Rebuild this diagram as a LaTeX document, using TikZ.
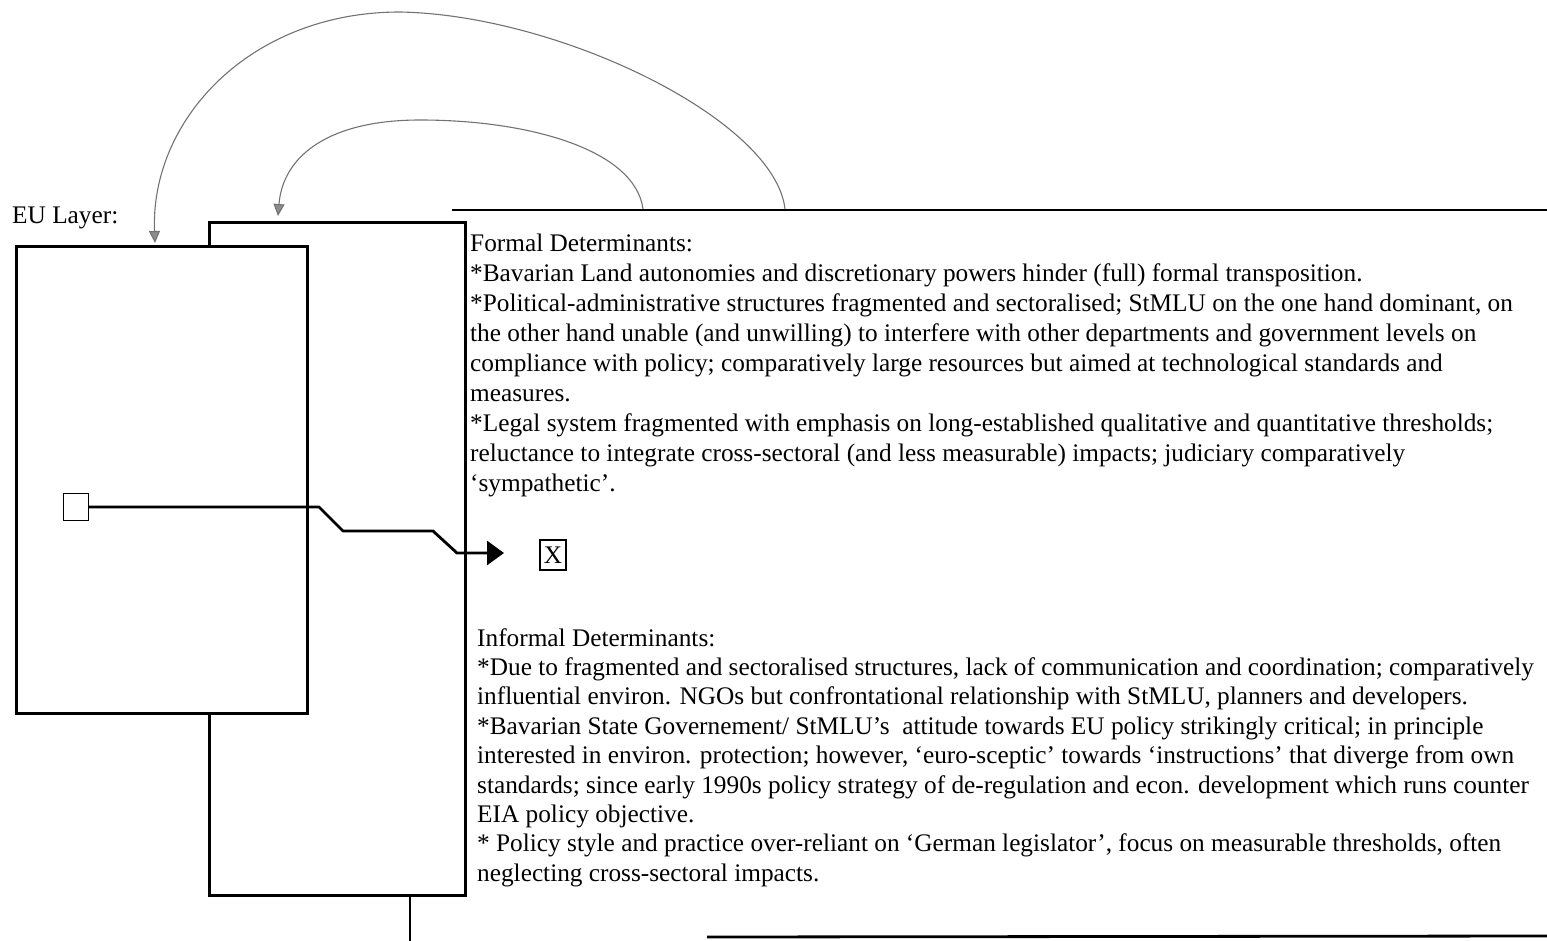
\documentclass[tikz,border=0pt]{standalone}
\usepackage{fontspec}
\setmainfont{Liberation Serif}
\usetikzlibrary{arrows.meta}
\begin{document}
\begin{tikzpicture}[x=1pt,y=-1pt,
  boxline/.style={draw=black,line width=2.8pt,inner sep=0pt,anchor=north west},
  rule/.style={draw=black,line width=2.8pt},
  txt/.style={anchor=north west,inner sep=0pt,align=left,font=\fontsize{25.3}{30}\selectfont},
  curvearrow/.style={draw=black!55,line width=1.1pt,-{Triangle[length=12pt,width=11pt,fill=black!45]}},
  smallbox/.style={draw=black,line width=1.3pt,fill=white}
  ]
\useasboundingbox (0,0) rectangle (1547,941);
\fill[white] (0,0) rectangle (1547,941);

% layer boxes
\node[boxline,minimum width=256pt,minimum height=673pt] (back) at (208,221) {};
\node[boxline,fill=white,minimum width=291pt,minimum height=467pt] (front) at (15,245) {};

% rules
\coordinate (t1) at (452,210);
\coordinate (t2) at (1547,210);
\draw[rule] (t1) -- (t2);
\coordinate (b1) at (707,937);
\coordinate (b2) at (1547,936);
\draw[rule] (b1) -- (b2);
\coordinate (v2) at (410,941);
\draw[rule,line width=2.6pt] (back.south west -| v2) -- (v2);

% label
\node[anchor=base west,inner sep=0pt,font=\fontsize{25.3}{30}\selectfont] (eu) at (12,224) {EU Layer:};

% curved arrows
\coordinate (a1) at (785,209);
\coordinate (o1) at (155,243);
\coordinate (a2) at (643,209);
\coordinate (i1) at (278,216);
\draw[curvearrow] (a1) .. controls (775,120) and (560,15) .. (400,12)
                       .. controls (250,12) and (150,120) .. (o1);
\draw[curvearrow] (a2) .. controls (635,150) and (530,120) .. (420,120)
                       .. controls (330,120) and (283,155) .. (i1);

% small square and X
\node[smallbox,minimum width=25pt,minimum height=27pt,inner sep=0pt] (sq) at (76,507) {};
\node[smallbox,minimum width=26pt,minimum height=30pt,inner sep=0pt,font=\fontsize{25.3}{30}\selectfont] (xb) at (553,555) {X};
\coordinate (tip) at (504,553);
\draw[line width=2.8pt,-{Triangle[length=17pt,width=24pt]}]
  (sq.east) -- (319,507) -- (343,531) -- (433,531) -- (457,553) -- (tip);

% texts
\node[txt] (formal) at (470,234) {Formal Determinants:\\
*Bavarian Land autonomies and discretionary powers hinder (full) formal transposition.\\
*Political-administrative structures fragmented and sectoralised; StMLU on the one hand dominant, on\\
the other hand unable (and unwilling) to interfere with other departments and government levels on\\
compliance with policy; comparatively large resources but aimed at technological standards and\\
measures.\\
*Legal system fragmented with emphasis on long-established qualitative and quantitative thresholds;\\
reluctance to integrate cross-sectoral (and less measurable) impacts; judiciary comparatively\\
‘sympathetic’.};

\node[txt,font=\fontsize{25.3}{29.4}\selectfont] (informal) at (477,628) {Informal Determinants:\\
*Due to fragmented and sectoralised structures, lack of communication and coordination; comparatively\\
influential environ. NGOs but confrontational relationship with StMLU, planners and developers.\\
*Bavarian State Governement/ StMLU’s\ \ attitude towards EU policy strikingly critical; in principle\\
interested in environ. protection; however, ‘euro-sceptic’ towards ‘instructions’ that diverge from own\\
standards; since early 1990s policy strategy of de-regulation and econ. development which runs counter\\
EIA policy objective.\\
* Policy style and practice over-reliant on ‘German legislator’, focus on measurable thresholds, often\\
neglecting cross-sectoral impacts.};
\end{tikzpicture}
\end{document}
